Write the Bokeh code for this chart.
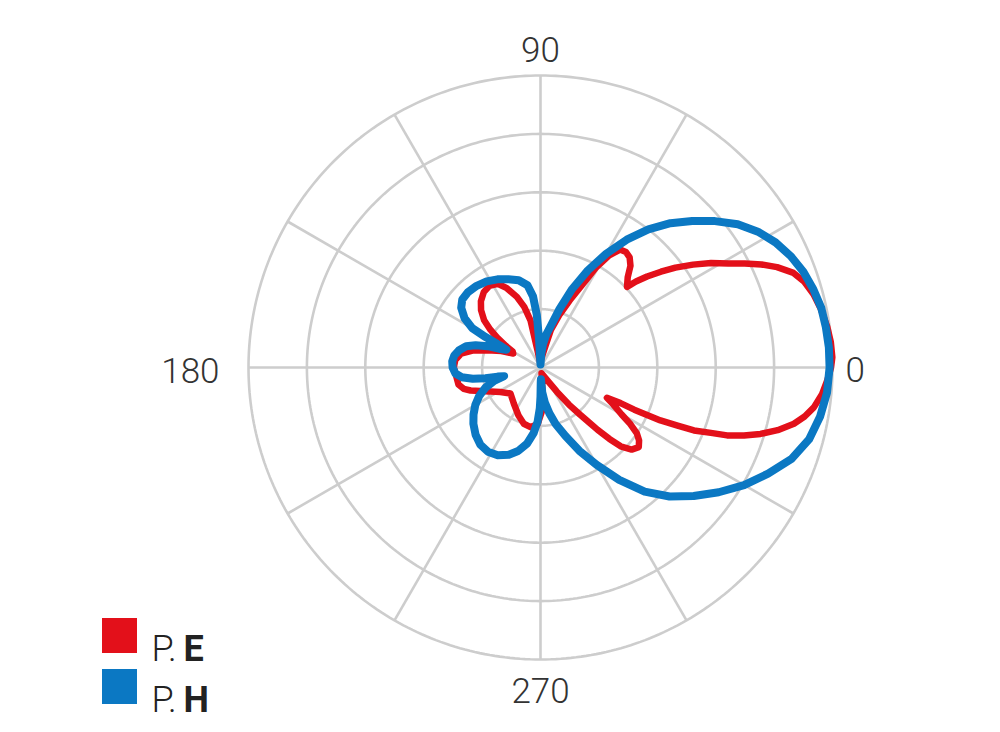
import numpy as np
from bokeh.plotting import figure
from bokeh.models import Range1d
from bokeh.core.properties import value
from bokeh.embed import file_html
from bokeh.resources import INLINE

# ---------------- data (angle in degrees, radius normalised to outer ring = 1) ----------------
pe_angle = [0, 2, 5, 8, 12, 15, 18, 20.5, 23, 25, 27, 29, 31.5, 34, 36.5, 38.5, 40.5, 42, 43,
            46, 48.5, 51, 53.5, 56, 58.5, 61, 63.5, 66.5, 70, 74.5, 77, 85,
            95, 100, 102, 105, 108.5, 113, 117, 122, 127, 132, 136, 140, 143, 145.5, 148, 150,
            153, 157, 162, 166, 170, 175, 180, 185, 191.7, 195.5, 198.2, 201.4, 205.6, 211.5, 220.9,
            233.7, 245.4, 253.5, 260.5, 267, 272.3, 275, 280,
            298, 304, 307.5, 310, 311.5, 312.5, 314, 315.5, 318, 321, 323.5, 325.6, 328, 330, 333,
            335.5, 336, 335.8, 336.2, 337, 337.7, 339, 340, 341.5, 343.2, 345.2, 347.5, 349.5,
            351.7, 354.5, 357.4, 360]
pe_radius = [0.995, 1.0, 0.998, 0.992, 0.98, 0.968, 0.95, 0.925, 0.88, 0.835, 0.785, 0.735, 0.685,
             0.63, 0.575, 0.527, 0.48, 0.44, 0.405,
             0.43, 0.465, 0.485, 0.492, 0.487, 0.45, 0.39, 0.31, 0.25, 0.195, 0.135, 0.077, 0.03,
             0.02, 0.06, 0.165, 0.215, 0.255, 0.295, 0.322, 0.33, 0.323, 0.305, 0.283, 0.252,
             0.215, 0.18, 0.14, 0.11,
             0.105, 0.145, 0.192, 0.24, 0.276, 0.293, 0.297, 0.291, 0.287, 0.273, 0.252, 0.221,
             0.19, 0.161, 0.136,
             0.154, 0.181, 0.201, 0.207, 0.195, 0.147, 0.079, 0.02,
             0.05, 0.10, 0.16, 0.21, 0.25, 0.29, 0.34, 0.385, 0.42, 0.433, 0.42, 0.40, 0.36,
             0.32, 0.28,
             0.25, 0.30, 0.352, 0.449, 0.51, 0.568, 0.625, 0.68, 0.735, 0.787, 0.84, 0.889,
             0.92, 0.946, 0.968, 0.983, 0.995]

ph_angle = [0, 4, 8, 12, 16, 20, 24, 28, 32, 36, 40, 44, 48, 52, 56, 60, 64, 68, 72, 76, 80,
            84, 87, 90,
            93, 94, 96, 99, 104, 110, 116, 122, 128, 134, 139, 143, 147, 150, 151, 151.5, 152.5,
            155, 158, 161, 164, 168, 172, 176, 180, 184, 187, 189.5, 191, 192, 193.5,
            196, 200, 205, 210, 215, 220, 226, 232, 238, 244, 250, 255, 260, 264, 267, 269, 270,
            271,
            272, 274, 277, 281, 285, 290, 295, 300, 305, 310, 315, 320, 325, 330, 335, 340,
            345, 350, 355, 360]
ph_radius = [0.99, 0.99, 0.987, 0.983, 0.972, 0.958, 0.938, 0.912, 0.878, 0.835, 0.78, 0.722,
             0.665, 0.6, 0.528, 0.45, 0.37, 0.29, 0.21, 0.148, 0.115, 0.08, 0.045, 0.01,
             0.10, 0.18, 0.245, 0.285, 0.308, 0.322, 0.336, 0.348, 0.355, 0.358, 0.355, 0.34,
             0.31, 0.27, 0.215, 0.16, 0.132,
             0.15, 0.195, 0.235, 0.265, 0.285, 0.298, 0.303, 0.301, 0.292, 0.272, 0.235, 0.192,
             0.15, 0.128,
             0.165, 0.2, 0.232, 0.258, 0.28, 0.3, 0.32, 0.335, 0.34, 0.334, 0.318, 0.296,
             0.265, 0.226, 0.185, 0.14, 0.10, 0.05,
             0.04, 0.085, 0.12, 0.16, 0.2, 0.25, 0.315, 0.385, 0.47, 0.555, 0.625, 0.685,
             0.745, 0.805, 0.86, 0.915, 0.952, 0.972, 0.985, 0.99]

ring_values = [0.2, 0.4, 0.6, 0.8, 1.0]
spoke_angles = [0, 30, 60, 90, 120, 150, 180, 210, 240, 270, 300, 330]
angle_labels = ["0", "90", "180", "270"]
series_names = [("P.", "E"), ("P.", "H")]

RED = "#e3101a"
BLUE = "#0b78c3"
GRID = "#cdcdcd"
TXT = "#333333"

# ---------------- figure (1 data unit = 292 px) ----------------
W, H = 984, 724
CX, CY = 540, 367   # centre of polar grid in canvas px
S = 292.0
p = figure(width=W, height=H, output_backend="svg", toolbar_location=None,
           x_range=Range1d(-CX / S, (W - CX) / S), y_range=Range1d(-(H - CY) / S, CY / S),
           x_axis_type=None, y_axis_type=None, min_border=0, outline_line_color=None)
p.grid.visible = False
p.background_fill_color = "white"


def px(x, y):
    return (x - CX) / S, (CY - y) / S


# grid rings
t = np.linspace(0, 2 * np.pi, 361)
p.multi_line(xs=[list(r * np.cos(t)) for r in ring_values],
             ys=[list(r * np.sin(t)) for r in ring_values],
             line_color=GRID, line_width=2.6)
# spokes
sa = np.radians(spoke_angles)
p.segment(x0=[0] * len(sa), y0=[0] * len(sa), x1=list(np.cos(sa)), y1=list(np.sin(sa)),
          line_color=GRID, line_width=2.6)

# series
for ang, rad, col, lw in [(pe_angle, pe_radius, RED, 6.5), (ph_angle, ph_radius, BLUE, 8)]:
    a = np.radians(ang)
    r = np.array(rad)
    p.line(x=list(r * np.cos(a)), y=list(r * np.sin(a)), line_color=col, line_width=lw,
           line_join="round", line_cap="round")

FONT = value("Roboto Light")
# angle labels
lab_pos = {"0": (845, 369, "left"), "90": (540, 49, "center"), "180": (219, 370, "right"),
           "270": (540, 690, "center")}
for lab in angle_labels:
    x, y, al = lab_pos[lab]
    dx, dy = px(x, y)
    p.text(x=[dx], y=[dy], text=[lab], text_align=al, text_baseline="middle",
           text_font=FONT, text_font_size="35px", text_color=TXT)

# legend
for i, ((pre, bold), col) in enumerate(zip(series_names, [RED, BLUE])):
    yc = 635 + i * 51
    sx, sy = px(119, yc)
    p.scatter(x=[sx], y=[sy], marker="square", size=35, fill_color=col, line_color=None)
    tx, ty = px(151, yc + 13)
    p.text(x=[tx], y=[ty], text=[pre], text_align="left", text_baseline="alphabetic",
           text_font=FONT, text_font_size="36px", text_color="#222222")
    bx, by = px(183, yc + 13)
    p.text(x=[bx], y=[by], text=[bold], text_align="left", text_baseline="alphabetic",
           text_font=value("Roboto"), text_font_style="bold", text_font_size="36px",
           text_color="#222222")

open("out.html", "w").write(file_html(p, INLINE))
